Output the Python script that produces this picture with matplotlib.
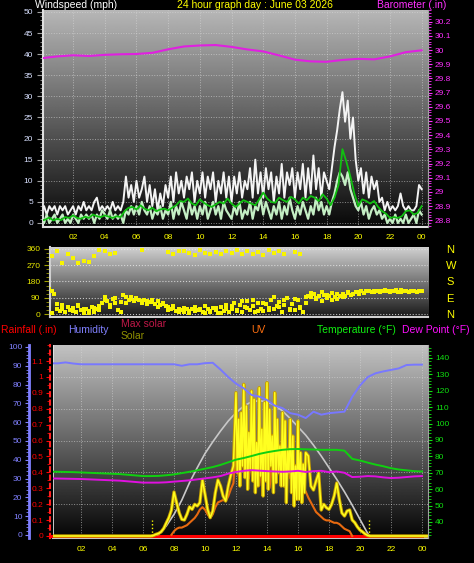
import numpy as np
import matplotlib
matplotlib.use("Agg")
import matplotlib.pyplot as plt
from matplotlib.ticker import MultipleLocator, FuncFormatter

plt.rcParams['font.family'] = ['Liberation Sans', 'DejaVu Sans']

W, H = 474, 563

# ---------------- data ----------------
# wind (mph), one value every 10 minutes, 00:00 .. 24:00
gust = [3, 4, 2, 4, 3, 4,  2, 4, 3, 4, 2, 3,  4, 2, 4, 3, 5, 3,  4, 3, 5, 6, 3, 4,
        3, 4, 3, 5, 3, 4,  3, 5, 11, 6, 9, 5,  10, 6, 8, 11, 5, 9,  4, 8, 3, 7, 4, 9,
        6, 11, 5, 12, 7, 10,  6, 11, 8, 12, 5, 10,  7, 12, 6, 11, 8, 12,  5, 10, 7, 12, 6, 11,
        5, 11, 7, 12, 6, 10,  8, 13, 6, 15, 7, 12,  6, 13, 8, 12, 5, 11,  7, 14, 6, 12, 9, 13,
        6, 12, 8, 14, 6, 13,  7, 16, 8, 13, 6, 12,  10, 8, 13, 18, 22, 27,  31, 24, 29, 20, 25, 15,
        10, 13, 7, 12, 6, 11,  8, 10, 5, 6, 3, 5,  3, 4, 3, 4, 7, 4,  3, 4, 3, 3, 4, 9,  8]
speed = [1, 0, 2, 0, 1, 2,  0, 1, 2, 0, 1, 0,  2, 1, 0, 2, 1, 2,  1, 2, 0, 2, 1, 3,
         2, 1, 3, 1, 2, 1,  2, 0, 3, 2, 4, 2,  4, 2, 5, 3, 2, 4,  1, 3, 2, 4, 1, 3,
         2, 5, 1, 4, 2, 5,  3, 1, 5, 2, 4, 1,  4, 2, 5, 1, 3, 5,  2, 4, 1, 5, 3, 2,
         1, 4, 2, 5, 1, 3,  2, 5, 1, 4, 3, 6,  2, 5, 3, 1, 4, 2,  5, 1, 4, 2, 6, 3,
         1, 4, 2, 5, 3, 1,  4, 2, 6, 3, 5, 2,  4, 2, 5, 7, 10, 12,  11, 9, 12, 8, 6, 4,
         3, 5, 2, 4, 1, 3,  4, 2, 3, 1, 2, 0,  1, 0, 2, 0, 1, 0,  2, 0, 1, 2, 0, 3,  2]
# 15-minute average wind
avg_wind = [0.6, 0.8, 1.3, 0.6,  1.0, 0.7, 1.4, 1.2,  1.8, 1.2, 1.0, 1.5,  1.2, 2.0, 1.6, 1.4,
            1.8, 1.5, 1.2, 1.6,  1.4, 2.8, 3.6, 3.8,  3.2, 4.2, 3.4, 3.0,  3.6, 2.8, 3.2, 3.4,
            3.0, 3.6, 4.2, 5.2,  5.0, 5.8, 4.6, 4.2,  5.6, 4.8, 4.2, 3.8,  4.4, 5.0, 4.6, 5.8,
            4.6, 3.8, 4.6, 5.4,  5.0, 4.6, 4.2, 5.6,  7.2, 5.8, 5.0, 4.8,  6.0, 5.4, 5.0, 6.2,
            5.6, 4.6, 6.0, 5.4,  6.4, 6.0, 5.2, 6.8,  5.8, 4.2, 6.0, 9.0,  17.5, 14.5, 11.0, 7.0,
            4.0, 5.6, 5.2, 4.6,  5.2, 3.8, 2.8, 2.2,  1.2, 1.4, 1.2, 1.6,  2.8, 3.0, 2.0, 2.4,  4.0]
# barometer (in), hourly
baro = [29.942, 29.955, 29.963, 29.958, 29.966, 29.970, 29.972, 29.980, 30.005, 30.025,
        30.032, 30.035, 30.022, 30.004, 29.990, 29.962, 29.932, 29.920, 29.917, 29.930,
        29.938, 29.934, 29.955, 29.985, 29.998]

# wind direction (deg): main cluster every 10 min, two more clusters every 20 min
nan = np.nan
dir_main = [125, 130, 110, 140, 125, 110,  30, 15, 50, 10, 40, 20,  35, 10, 45, 20, 5, 25,
            15, 40, 10, 30, 20, 60,  95, 70, 40, 85, 60, 20,  10, 105, 60, 80, 95, 70,
            85, 75, 60, 80, 70, 65,  75, 55, 70, 50, 60, 45,  40, 25, 35, 15, 30, 20,
            10, 25, 5, 30, 15, 20,  30, 10, 5, 25, 15, 35,  20, 5, 40, 15, 25, 10,
            30, 60, 15, 50, 10, 40,  70, 20, 45, 10, 60, 30,  15, 55, 35, 80, 25, 45,
            65, 10, 50, 90, 30, 55,  20, 75, 40, 10, 60, 100,  95, 110, 85, 100, 70, 105,
            90, 100, 115, 95, 85, 100,  110, 100, 115, 105, 110, 120,  110, 125, 115, 130, 125, 120,
            130, 125, 120, 130, 135, 125,  120, 130, 125, 120, 135, 130,  125, 120, 130, 125, 120, 130,  125]
dir_extra = [20, 45, 5,  55, 25, 40,  15, 50, 30,  5, 35, 45,  75, 50, 90,  65, 95, 85,
             90, 70, 55,  65, 40, 55,  20, 45, 10,  35, 15, 40,  20, 45, 10,  35, 5, 50,
             45, 20, 70,  35, 80, 15,  60, 20, 95,  40, 75, 20,  85, 35, 95,  115, 90, 120,
             105, 80, 110,  95, 120, 110,  120, 115, 125,  120, 130, 125,  125, 135, 120,
             130, 125, 120,  125]
dir_upper = [300, 340, 320,  350, 285, 330,  310, 280, 295,  290, 320, 355,  350, 335, 340,
             nan, nan, nan,  nan, 355, nan,  nan, nan, nan,  345, 330, 350,  350, 340, 325,
             355, 340, 335,  345, 330, 350,  340, 355, 330,  350, 330, 345,  325, 355, 340,
             350, 330, nan,  345, 335, nan,  nan, nan, nan,  nan, nan, nan,  nan, nan, nan,
             nan, nan, nan,  nan, nan, nan,  nan, nan, nan,  nan, nan, nan,  nan]

# humidity (%), temperature and dew point (F), every 30 min
humidity = [91.3, 91.3, 91.8, 91.2, 90.8, 90.8, 90.8, 90.8, 90.8, 90.8, 90.8, 90.8, 90.8,
            90.8, 90.8, 90.8, 90.8, 90.0, 90.8, 90.8, 91.4, 91.6, 88.0, 84.0, 80.5, 78.0,
            74.5, 73.6, 71.8, 68.8, 67.5, 64.8, 64.0, 62.2, 65.6, 64.0, 64.8, 65.2, 65.6,
            73.5, 79.5, 84.0, 86.0, 87.0, 87.8, 88.6, 90.4, 90.6, 90.6]
temperature = [70.7, 70.6, 70.5, 70.4, 70.2, 70.0, 69.8, 69.6, 69.4, 69.2, 68.8, 68.4, 68.0,
               68.0, 68.1, 68.5, 69.0, 69.8, 70.6, 71.5, 72.5, 73.5, 74.8, 76.4, 78.0, 79.0,
               80.2, 81.5, 82.5, 83.3, 84.0, 84.4, 84.5, 84.3, 84.2, 84.0, 84.0, 84.0, 83.5,
               78.5, 77.5, 76.2, 75.0, 74.0, 72.8, 72.0, 71.5, 71.0, 70.8]
dew_point = [66.6, 66.5, 66.4, 66.3, 66.2, 66.0, 65.8, 65.6, 65.4, 65.2, 64.8, 64.4, 64.0,
             64.0, 64.0, 64.2, 64.6, 65.0, 65.4, 66.0, 66.6, 67.2, 68.0, 69.5, 70.5, 71.2,
             71.6, 71.3, 71.0, 70.8, 70.6, 70.8, 71.2, 70.5, 71.0, 71.2, 70.4, 70.8, 70.0,
             67.4, 67.6, 68.0, 67.8, 67.2, 66.8, 67.0, 67.4, 67.8, 68.0]
# rainfall (in), hourly
rain = [0, 0, 0, 0, 0, 0, 0, 0, 0, 0, 0, 0, 0, 0, 0, 0, 0, 0, 0, 0, 0, 0, 0, 0, 0]

# solar (W/m2): night value, morning every 10 min from 06:30, midday every 5 min from 12:00,
# evening every 10 min from 16:30
solar_night = [0, 0]
solar_morning = [0, 3, 10,  15, 25, 45, 78, 110, 156,  264, 200, 140, 100, 96, 130,
                 175, 160, 190, 180, 200, 336,  250, 160, 110, 150, 260, 336,
                 300, 240, 210, 300, 366, 420]
solar_midday = [860, 380, 700, 300, 740, 420, 910, 350, 780, 280, 620, 400,
                870, 330, 820, 260, 560, 300, 890, 360, 640, 240, 800, 330,
                920, 280, 760, 420, 600, 260, 860, 320, 700, 380, 540, 300,
                740, 300, 690, 200, 520, 380, 700, 260, 600, 180, 420, 220,
                690, 220, 500, 200, 430, 260]
solar_evening = [500, 480, 300,  276, 330, 378, 156, 190, 170,  160, 190, 240, 318, 220, 138,
                 120, 150, 156, 96, 80, 55,  36, 25, 12, 3, 0, 0]
# UV index every 10 min
uv = [nan, nan, nan, nan, nan, nan,  nan, nan, nan, nan, nan, nan,  nan, nan, nan, nan, nan, nan,
      nan, nan, nan, nan, nan, nan,  nan, nan, nan, nan, nan, nan,  nan, nan, nan, nan, nan, nan,
      nan, nan, nan, nan, nan, nan,  nan, nan, nan, nan, nan, 0.1,  0.4, 0.6, 0.7, 0.7, 0.8, 0.9,
      1.1, 1.3, 1.5, 1.8, 2.2, 2.4,  2.2, 1.8, 1.5, 1.8, 2.4, 2.8,  2.9, 3.0, 2.9, 3.3, 3.9, 4.4,
      7.5, 5.0, 8.2, 5.5, 7.0, 4.8,  6.8, 4.5, 6.5, 4.2, 6.9, 4.6,  7.0, 4.0, 6.2, 4.5, 7.2, 5.0,
      6.8, 4.5, 6.0, 4.8, 5.5, 3.5,  4.8, 4.4, 4.0, 3.7, 3.2, 2.8,  2.4, 2.0, 1.8, 1.6, 1.4, 1.3,
      1.3, 1.2, 1.1, 1.1, 1.0, 0.8,  0.6, 0.5, 0.4, 0.0, nan, nan,  nan, nan, nan, nan, nan, nan,
      nan, nan, nan, nan, nan, nan,  nan, nan, nan, nan, nan, nan,  nan, nan, nan, nan, nan, nan,  nan]
max_solar_hours = [6.6, 7, 7.5, 8, 8.5, 9, 9.5, 10, 10.5, 11, 11.5, 12, 12.5, 13, 13.5, 14,
                   14.5, 15, 15.5, 16, 16.5, 17, 17.5, 18, 18.5, 19, 19.5, 20, 20.5, 20.65]
max_solar = [0, 10, 60, 130, 215, 320, 410, 495, 565, 630, 690, 740, 780, 805, 812, 805,
             785, 750, 705, 655, 605, 545, 480, 410, 340, 265, 185, 100, 15, 0]
sun_times = [6.55, 20.6]

hour_ticks = [2, 4, 6, 8, 10, 12, 14, 16, 18, 20, 22, 24]
hour_labels = ["02", "04", "06", "08", "10", "12", "14", "16", "18", "20", "22", "00"]


# ---------------- helpers ----------------
def box(x0, y0, x1, y1):
    return [x0 / W, 1 - y1 / H, (x1 - x0) / W, (y1 - y0) / H]


def shade(ax, top, bottom):
    g = np.linspace(top, bottom, 256).reshape(-1, 1)
    ax.imshow(g, cmap='gray', vmin=0, vmax=1, extent=[0, 1, 0, 1],
              transform=ax.transAxes, aspect='auto', zorder=0, interpolation='bilinear')


def hours(series, per_hour, start=0.0):
    return start + np.arange(len(series)) / per_hour


fig = plt.figure(figsize=(W / 100, H / 100), dpi=100, facecolor='black')

# ---------------- windspeed / barometer ----------------
ax1 = fig.add_axes(box(43, 10, 428, 227))
shade(ax1, 0.72, 0.03)
ax1.plot(hours(gust, 6), gust, color='#f4f4f4', lw=1.4, zorder=3)
ax1.plot(hours(speed, 6), speed, color='#c4eec4', lw=1.6, zorder=4)
ax1.plot(hours(avg_wind, 4), avg_wind, color='#10c010', lw=1.3, zorder=5)
ax1.set_xlim(0.1, 24.4)
ax1.set_ylim(-0.95, 50.47)
ax1.set_yticks(range(0, 51, 5))
ax1.yaxis.set_minor_locator(MultipleLocator(1))
ax1.tick_params(axis='y', which='major', colors='#a0a0a0', labelcolor='#d8e0ff',
                labelsize=6, length=4, pad=3)
ax1.tick_params(axis='y', which='minor', colors='#a0a0a0', length=2)
ax1.set_xticks(hour_ticks)
ax1.set_xticklabels(hour_labels)
ax1.tick_params(axis='x', colors='#ffff00', labelsize=6, length=0, pad=5)
ax1.grid(True, color='#d8d8d8', linestyle=':', lw=0.7, alpha=0.6)
for s in ['left', 'bottom']:
    ax1.spines[s].set_color('#e0e0e0')
    ax1.spines[s].set_linewidth(1.5)
ax1.spines['top'].set_visible(False)
ax1.spines['right'].set_color('#a0a0a0')

ax1b = ax1.twinx()
ax1b.plot(hours(baro, 1), baro, color='#e020e0', lw=1.5, zorder=6)
ax1b.set_ylim(28.753, 30.282)
ax1b.set_yticks(np.round(np.arange(288, 303) / 10, 1))
ax1b.yaxis.set_major_formatter(FuncFormatter(lambda v, p: f"{v:g}"))
ax1b.yaxis.set_minor_locator(MultipleLocator(0.02))
ax1b.tick_params(axis='y', which='major', colors='#ff30ff', labelsize=6, length=3, pad=2)
ax1b.tick_params(axis='y', which='minor', colors='#ff30ff', length=2)
for s in ['left', 'bottom', 'top']:
    ax1b.spines[s].set_visible(False)
ax1b.spines['right'].set_color('#a0a0a0')

fig.text(35 / W, 1 - 5 / H, "Windspeed (mph)", color='white', fontsize=7.5, va='center')
fig.text(255 / W, 1 - 5 / H, "24 hour graph day : June 03 2026", color='#ffff00',
         fontsize=7.5, va='center', ha='center')
fig.text(377 / W, 1 - 5 / H, "Barometer (.in)", color='#ff30ff', fontsize=7.5, va='center')

# ---------------- wind direction ----------------
ax2 = fig.add_axes(box(50, 247, 428, 317))
shade(ax2, 0.82, 0.1)
for series, per_hour in [(dir_main, 6), (dir_extra, 3), (dir_upper, 3)]:
    ax2.scatter(hours(series, per_hour), series, s=7, marker='s', color='#f8f400',
                linewidths=0, zorder=3)
ax2.set_xlim(0.55, 24.38)
ax2.set_ylim(-16.6, 371)
ax2.set_xticks([])
ax2.set_yticks([0, 90, 180, 270, 360])
ax2.yaxis.set_minor_locator(MultipleLocator(22.5))
ax2.tick_params(axis='y', which='major', colors='#a0a000', labelcolor='#e8e800',
                labelsize=6, length=4, pad=3)
ax2.tick_params(axis='y', which='minor', colors='#a0a000', length=3)
ax2.grid(True, axis='y', color='#e8e8e8', linestyle=':', lw=0.8, alpha=0.8)
for s in ['left', 'bottom']:
    ax2.spines[s].set_color('#d0d0d0')
    ax2.spines[s].set_linewidth(1.5)
for s in ['top', 'right']:
    ax2.spines[s].set_visible(False)
ax2r = ax2.twinx()
ax2r.set_ylim(-16.6, 371)
ax2r.set_yticks([0, 90, 180, 270, 360])
ax2r.set_yticklabels(['N', 'E', 'S', 'W', 'N'])
ax2r.tick_params(axis='y', colors='#ffff00', labelsize=8, length=0, pad=13)
for s in ax2r.spines.values():
    s.set_visible(False)

# ---------------- rain / humidity / solar / temperature ----------------
ax3 = fig.add_axes(box(53, 345, 428, 538))
shade(ax3, 0.76, 0.02)
ax3.plot(hours(rain, 1), rain, color='#ff0000', lw=2.2, zorder=3, clip_on=False)
ax3.set_xlim(0.19, 24.39)
ax3.set_ylim(-0.0126, 1.201)
ax3.set_yticks(np.round(np.arange(0, 12) / 10, 1))
ax3.yaxis.set_major_formatter(FuncFormatter(lambda v, p: f"{v:g}"))
ax3.yaxis.set_minor_locator(MultipleLocator(0.05))
ax3.tick_params(axis='y', which='major', colors='#ff0000', labelsize=6, length=3, pad=2)
ax3.tick_params(axis='y', which='minor', colors='#ff0000', length=2)
ax3.set_xticks(hour_ticks)
ax3.set_xticklabels(hour_labels)
ax3.tick_params(axis='x', colors='#ffff00', labelsize=6, length=0, pad=6)
ax3.grid(True, axis='x', color='#d8d8d8', linestyle=':', lw=0.7, alpha=0.6)
for v in [0.2, 0.4, 0.6, 0.8, 1.0]:
    ax3.axhline(v, color='#d8d8d8', linestyle=':', lw=0.7, alpha=0.6, zorder=1)
ax3.spines['left'].set_position(('outward', 2))
ax3.spines['left'].set_color('#ff2020')
ax3.spines['left'].set_linestyle((0, (2, 2)))
ax3.spines['left'].set_linewidth(1.5)
ax3.spines['bottom'].set_color('#c8c8c8')
ax3.spines['bottom'].set_linewidth(1.5)
ax3.spines['top'].set_visible(False)
ax3.spines['right'].set_visible(False)
ax3.plot([0, 0], [0, 1], transform=ax3.transAxes, color='#e8e8e8', lw=1.2, zorder=2)

ax_uv = ax3.twinx()
ax_uv.plot(hours(uv, 6), uv, color='#e86a10', lw=1.5)
ax_uv.set_ylim(-0.167, 15.92)
ax_uv.axis('off')

solar_t = np.concatenate([[0.0], hours(solar_morning, 6, 6.5), hours(solar_midday, 12, 12.0),
                          hours(solar_evening, 6, 16.5), [24.4]])
solar_v = np.concatenate([solar_night[:1], solar_morning, solar_midday, solar_evening,
                          solar_night[1:]])
ax_s = ax3.twinx()
ax_s.plot(max_solar_hours, max_solar, color='#c8c8c8', lw=1.2, zorder=2)
ax_s.plot(solar_t, solar_v, color='#c8a000', lw=2.4, zorder=3)
ax_s.plot(solar_t, solar_v, color='#ffff20', lw=1.1, zorder=4)
ax_s.vlines(sun_times, 0, 96, color='#ffff00', linestyles=':', lw=1.0, zorder=5)
ax_s.set_ylim(-12, 1146)
ax_s.axis('off')

ax_h = ax3.twinx()
ax_h.plot(hours(humidity, 2), humidity, color='#7878ff', lw=1.4)
ax_h.set_ylim(-1.6, 101.06)
ax_h.yaxis.set_ticks_position('left')
ax_h.spines['left'].set_position(('axes', -0.063))
ax_h.spines['left'].set_visible(True)
ax_h.spines['left'].set_color('#8080ff')
ax_h.spines['left'].set_linewidth(2)
for s in ['right', 'top', 'bottom']:
    ax_h.spines[s].set_visible(False)
ax_h.set_yticks(range(0, 101, 10))
ax_h.yaxis.set_minor_locator(MultipleLocator(2))
ax_h.tick_params(axis='y', which='major', colors='#8080ff', labelsize=6, length=3, pad=2)
ax_h.tick_params(axis='y', which='minor', colors='#8080ff', length=2)

ax_t = ax3.twinx()
ax_t.plot(hours(temperature, 2), temperature, color='#10d010', lw=1.4)
ax_t.plot(hours(dew_point, 2), dew_point, color='#e010e0', lw=1.4)
ax_t.set_ylim(30.24, 147.9)
ax_t.set_yticks(range(40, 141, 10))
ax_t.yaxis.set_minor_locator(MultipleLocator(2))
ax_t.tick_params(axis='y', which='major', colors='#10e010', labelsize=6, length=3, pad=2)
ax_t.tick_params(axis='y', which='minor', colors='#10e010', length=2)
for s in ['left', 'top', 'bottom']:
    ax_t.spines[s].set_visible(False)
ax_t.spines['right'].set_color('#a0a0a0')

hy = 1 - 330 / H
fig.text(1 / W, hy, "Rainfall (.in)", color='#ff0000', fontsize=7.5, va='center')
fig.text(68 / W, hy, "Humidity", color='#8080ff', fontsize=7.5, va='center')
fig.text(121 / W, 1 - 324 / H, "Max solar", color='#c01848', fontsize=7.5, va='center')
fig.text(121 / W, 1 - 336 / H, "Solar", color='#909000', fontsize=7.5, va='center')
fig.text(251 / W, hy, "UV", color='#ff7010', fontsize=7.5, va='center')
fig.text(317 / W, hy, "Temperature (°F)", color='#10f010', fontsize=7.5, va='center')
fig.text(402 / W, hy, "Dew Point (°F)", color='#ff10ff', fontsize=7.5, va='center')

fig.savefig("out.png", dpi=100, facecolor='black')
